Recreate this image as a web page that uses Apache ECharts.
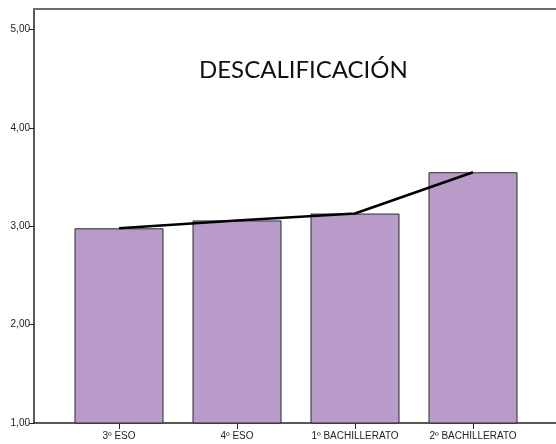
<!DOCTYPE html>
<html>
<head>
<meta charset="utf-8">
<script src="https://cdn.jsdelivr.net/npm/echarts@6/dist/echarts.min.js"></script>
<style>
  html, body { margin: 0; padding: 0; background: #fff; }
  #chart { width: 556px; height: 444px; }
</style>
</head>
<body>
<div id="chart"></div>
<script>
// datos
var cursos = ['3º ESO', '4º ESO', '1º BACHILLERATO', '2º BACHILLERATO'];
var medias = [2.98, 3.06, 3.13, 3.55];
var marcasY = [1, 2, 3, 4, 5];

var myChart = echarts.init(document.getElementById('chart'));

var option = {
    animation: false,
    title: {
        text: 'DESCALIFICACIÓN',
        left: 194,
        top: 53,
        textStyle: {
            fontFamily: 'Lato',
            fontWeight: 'normal',
            fontSize: 24,
            color: '#111'
        }
    },
    grid: [
        // marco con los ejes
        { left: 34, right: 0, top: 9, bottom: 21 },
        // zona de las barras
        { left: 60, right: 24, top: 9, bottom: 21 }
    ],
    xAxis: [
        {
            gridIndex: 0, type: 'value', min: 0, max: 1,
            axisLine: { show: true, lineStyle: { color: '#222', width: 1.5 } },
            axisTick: { show: false }, axisLabel: { show: false }, splitLine: { show: false }
        },
        {
            gridIndex: 0, type: 'value', min: 0, max: 1, position: 'top',
            axisLine: { show: true, lineStyle: { color: '#6e6e6e', width: 2 } },
            axisTick: { show: false }, axisLabel: { show: false }, splitLine: { show: false }
        },
        {
            gridIndex: 1, type: 'category', data: cursos,
            axisLine: { show: false },
            axisTick: { show: true, alignWithLabel: true, length: 6, lineStyle: { color: '#222' } },
            axisLabel: {
                margin: 8,
                fontFamily: 'Arial, Liberation Sans, sans-serif',
                fontSize: 10,
                color: '#222'
            }
        }
    ],
    yAxis: [
        {
            gridIndex: 0, type: 'value', min: 1, max: 5.21, interval: 1,
            axisLine: { show: true, lineStyle: { color: '#222', width: 1.5 } },
            axisTick: { show: true, length: 5, customValues: marcasY, lineStyle: { color: '#222' } },
            axisLabel: {
                customValues: marcasY,
                margin: 4,
                fontFamily: 'Arial, Liberation Sans, sans-serif',
                fontSize: 10,
                color: '#222',
                formatter: function (v) {
                    return v.toFixed(2).replace('.', ',');
                }
            },
            splitLine: { show: false }
        },
        {
            gridIndex: 1, type: 'value', min: 1, max: 5.21, show: false
        }
    ],
    series: [
        {
            type: 'bar',
            xAxisIndex: 2,
            yAxisIndex: 1,
            data: medias,
            barWidth: 89,
            itemStyle: {
                color: '#b89bc9',
                borderColor: '#2a2a2a',
                borderWidth: 1
            }
        },
        {
            type: 'line',
            xAxisIndex: 2,
            yAxisIndex: 1,
            data: medias,
            showSymbol: false,
            symbol: 'none',
            lineStyle: { color: '#000', width: 2.5 }
        }
    ]
};
myChart.setOption(option);
</script>
</body>
</html>
